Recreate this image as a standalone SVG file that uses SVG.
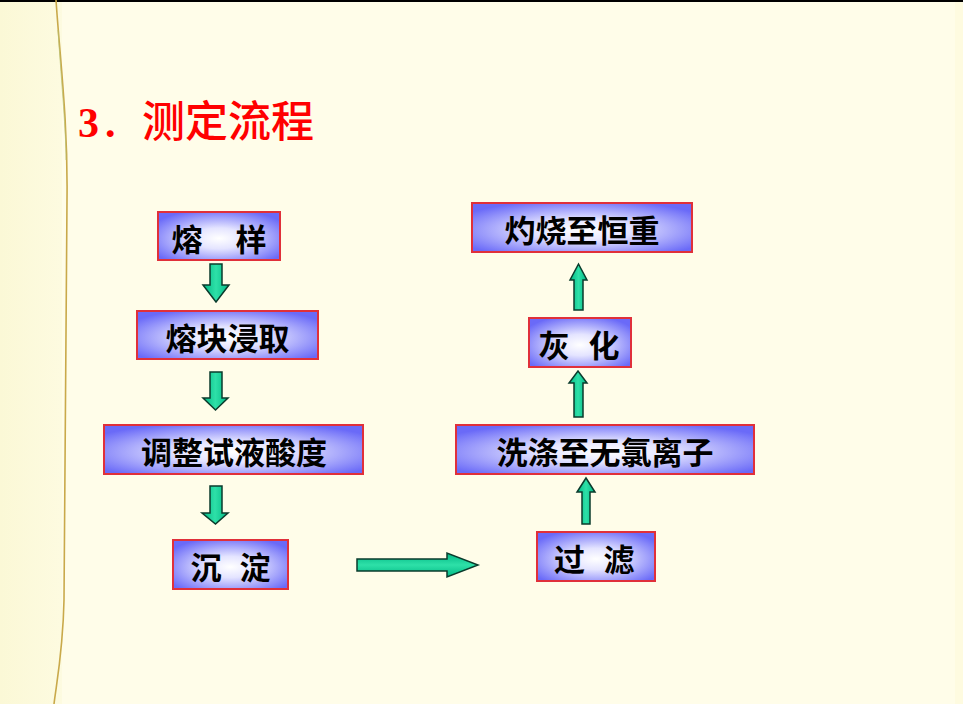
<svg xmlns="http://www.w3.org/2000/svg" width="963" height="704" viewBox="0 0 963 704">
<defs>
<radialGradient id="boxg" cx="0.5" cy="0.55" r="0.62">
<stop offset="0" stop-color="#ffffff"/>
<stop offset="0.35" stop-color="#e4e4ff"/>
<stop offset="1" stop-color="#6a6af8"/>
</radialGradient>
<linearGradient id="arrv" x1="0" y1="0" x2="1" y2="0">
<stop offset="0" stop-color="#00b884"/>
<stop offset="0.5" stop-color="#2ee0a8"/>
<stop offset="1" stop-color="#00b884"/>
</linearGradient>
<linearGradient id="arrh" x1="0" y1="0" x2="0" y2="1">
<stop offset="0" stop-color="#00b884"/>
<stop offset="0.5" stop-color="#2ee0a8"/>
<stop offset="1" stop-color="#00b884"/>
</linearGradient>
<linearGradient id="leftbg" x1="0" y1="0" x2="1" y2="0">
<stop offset="0" stop-color="#fbf8d6"/>
<stop offset="1" stop-color="#fdfbe0"/>
</linearGradient>
</defs>
<style>
.box{fill:url(#boxg);stroke:#e0303a;stroke-width:2}
.lbl{font-family:"Noto Sans CJK SC","Noto Sans",sans-serif;font-weight:bold;font-size:31px;fill:#000;text-anchor:middle}
.av{fill:url(#arrv);stroke:#0b3b2c;stroke-width:1.5;stroke-linejoin:miter}
.ah{fill:url(#arrh);stroke:#0b3b2c;stroke-width:1.5;stroke-linejoin:miter}
</style>
<rect x="0" y="0" width="963" height="704" fill="#fffde9"/>
<rect x="0" y="0" width="62" height="704" fill="url(#leftbg)"/>
<rect x="955" y="0" width="8" height="704" fill="#fefbe0"/>
<rect x="0" y="0" width="963" height="2" fill="#000"/>
<path d="M56,0 C60,60 68,120 67,200 C66,300 65,450 64,600 C63,650 57,680 54,704" fill="none" stroke="#c9a94a" stroke-width="1.6"/>
<path d="M58,30 C62,90 66,130 66,160" fill="none" stroke="#b8c070" stroke-width="1" opacity="0.7"/>
<text y="137" font-size="42" fill="#ff0000"><tspan x="78" font-family="Liberation Serif,serif" font-weight="bold">3</tspan><tspan x="105" font-family="Liberation Serif,serif" font-weight="bold">.</tspan><tspan x="142" font-size="43" font-family="Noto Sans CJK SC,sans-serif" font-weight="500">测定流程</tspan></text>
<g id="connectors">
<path class="av" d="M210,264 H222 V285 H229 L216,302 L203,285 H210 Z"/>
<path class="av" d="M210,372 H222 V398 H228 L215.5,410 L203,398 H210 Z"/>
<path class="av" d="M210,486 H222 V513 H228 L215.5,524 L202,513 H210 Z"/>
<path class="ah" d="M357,559 H447 V553 L478,565 L447,577 V571 H357 Z"/>
<path class="av" d="M582,524 V492 H577 L586,478 L595,492 H590 V524 Z"/>
<path class="av" d="M574,417 V383 H569 L578,371 L587,383 H583 V417 Z"/>
<path class="av" d="M574,310 V280 H570 L578.5,264 L587,280 H583 V310 Z"/>
</g>
<g id="n1"><rect class="box" x="158" y="212" width="122" height="48"/><text class="lbl" y="251"><tspan x="187">熔</tspan><tspan x="251">样</tspan></text></g>
<g id="n2"><rect class="box" x="137" y="311" width="181" height="48"/><text class="lbl" x="227.5" y="350">熔块浸取</text></g>
<g id="n3"><rect class="box" x="104" y="425" width="259" height="49"/><text class="lbl" x="234" y="464">调整试液酸度</text></g>
<g id="n4"><rect class="box" x="173" y="540" width="115" height="49"/><text class="lbl" y="579"><tspan x="206">沉</tspan><tspan x="255">淀</tspan></text></g>
<g id="n5"><rect class="box" x="537" y="532" width="118" height="49"/><text class="lbl" y="571"><tspan x="569.5">过</tspan><tspan x="619">滤</tspan></text></g>
<g id="n6"><rect class="box" x="456" y="425" width="298" height="49"/><text class="lbl" x="605" y="464">洗涤至无氯离子</text></g>
<g id="n7"><rect class="box" x="529" y="318" width="102" height="49"/><text class="lbl" y="357"><tspan x="554">灰</tspan><tspan x="604">化</tspan></text></g>
<g id="n8"><rect class="box" x="472" y="203" width="220" height="49"/><text class="lbl" x="582" y="242">灼烧至恒重</text></g>
</svg>
